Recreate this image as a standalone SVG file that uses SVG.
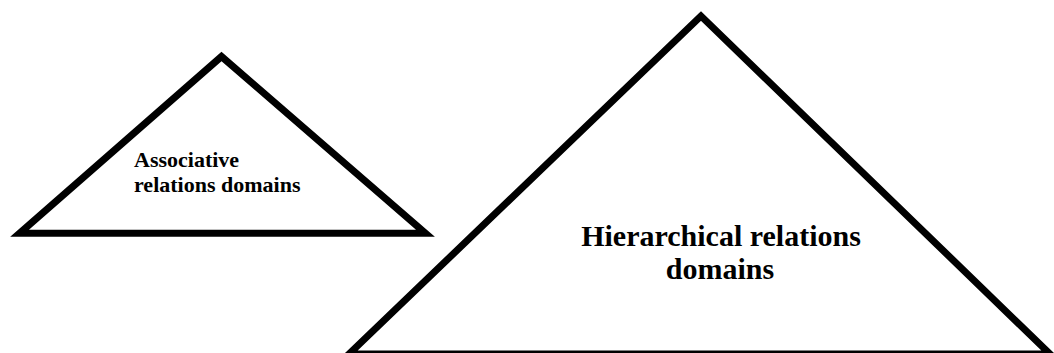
<svg xmlns="http://www.w3.org/2000/svg" width="1054" height="353" viewBox="0 0 1054 353">
<style>
.tri{fill:#fff;stroke:#000;stroke-width:7;stroke-linejoin:miter;stroke-miterlimit:20}
.lbl{font-family:"Liberation Serif","Times New Roman",serif;font-weight:bold;fill:#000}
</style>
<rect width="1054" height="353" fill="#fff"/>
<g id="associative">
<polygon class="tri" points="221.5,56.5 19.5,233.3 425.5,233.3"/>
<text class="lbl" font-size="22" x="134" y="167">Associative</text>
<text class="lbl" font-size="22" x="134" y="192">relations domains</text>
</g>
<g id="hierarchical">
<polygon class="tri" points="701,16 349,354 1050,354"/>
<text class="lbl" font-size="30" text-anchor="middle" x="721" y="246">Hierarchical relations</text>
<text class="lbl" font-size="30" text-anchor="middle" x="720" y="279">domains</text>
</g>
<g id="connectors"/>
</svg>
